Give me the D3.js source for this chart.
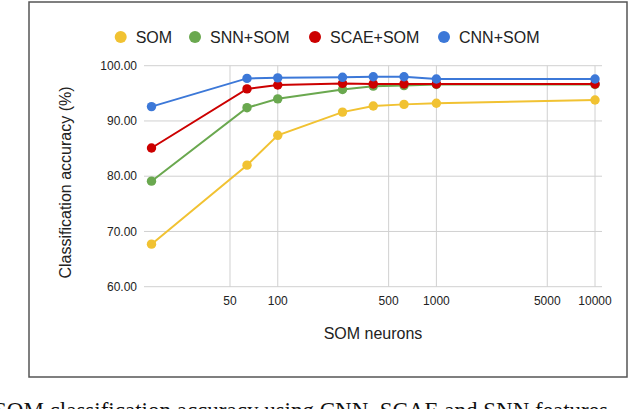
<!DOCTYPE html>
<html>
<head>
<meta charset="utf-8">
<script src="https://cdn.jsdelivr.net/npm/d3@7"></script>
<style>
  html, body { margin: 0; padding: 0; background: #fff; overflow: hidden; }
  svg { display: block; }
</style>
</head>
<body>
<svg id="chart" width="640" height="409"></svg>
<script>
const neurons = [16, 64, 100, 256, 400, 625, 1000, 10000];
const seriesNames = ["SOM", "SNN+SOM", "SCAE+SOM", "CNN+SOM"];
const seriesColors = ["#f1c232", "#6aa84f", "#cc0000", "#3c78d8"];
const somValues     = [67.7, 82.0, 87.4, 91.6, 92.7, 93.0, 93.2, 93.8];
const snnSomValues  = [79.1, 92.4, 94.0, 95.7, 96.3, 96.4, 96.6, 96.6];
const scaeSomValues = [85.1, 95.8, 96.5, 96.8, 96.7, 96.7, 96.7, 96.7];
const cnnSomValues  = [92.6, 97.7, 97.8, 97.9, 98.0, 98.0, 97.6, 97.6];
const yTicks = [60, 70, 80, 90, 100];
const xTicks = [50, 100, 500, 1000, 5000, 10000];
const xLabel = "SOM neurons";
const yLabel = "Classification accuracy (%)";
const caption = "SOM classification accuracy using CNN, SCAE and SNN features";

const allValues = [somValues, snnSomValues, scaeSomValues, cnnSomValues];

const svg = d3.select("#chart");

// frame
svg.append("rect")
  .attr("x", 29).attr("y", 2).attr("width", 598).attr("height", 375)
  .attr("fill", "#fff").attr("stroke", "#555").attr("stroke-width", 1.5);

const x = d3.scaleLog().domain([14.35, 11066]).range([144, 602]);
const y = d3.scaleLinear().domain([60, 100]).range([286.7, 65.7]);

const font = "Liberation Sans, Arial, sans-serif";

// horizontal gridlines
svg.append("g").selectAll("line").data(yTicks).join("line")
  .attr("x1", 144).attr("x2", 602)
  .attr("y1", d => y(d)).attr("y2", d => y(d))
  .attr("stroke", "#d0d0d0").attr("stroke-width", 1);

// vertical gridlines
svg.append("g").selectAll("line").data(xTicks).join("line")
  .attr("x1", d => x(d)).attr("x2", d => x(d))
  .attr("y1", y(100)).attr("y2", y(60))
  .attr("stroke", "#d0d0d0").attr("stroke-width", 1);

// y tick labels
svg.append("g").selectAll("text").data(yTicks).join("text")
  .attr("x", 137).attr("y", d => y(d))
  .attr("dy", "0.35em")
  .attr("text-anchor", "end")
  .attr("font-family", font).attr("font-size", 12).attr("fill", "#222")
  .text(d => d3.format(".2f")(d));

// x tick labels
svg.append("g").selectAll("text").data(xTicks).join("text")
  .attr("x", d => x(d)).attr("y", 301)
  .attr("dy", "0.35em")
  .attr("text-anchor", "middle")
  .attr("font-family", font).attr("font-size", 12).attr("fill", "#222")
  .text(d => d);

// axis titles
svg.append("text")
  .attr("x", 373).attr("y", 339)
  .attr("text-anchor", "middle")
  .attr("font-family", font).attr("font-size", 16).attr("fill", "#222")
  .text(xLabel);

svg.append("text")
  .attr("transform", "translate(71,182.5) rotate(-90)")
  .attr("text-anchor", "middle")
  .attr("font-family", font).attr("font-size", 16).attr("fill", "#222")
  .text(yLabel);

// series
const line = d3.line().x((d, i) => x(neurons[i])).y(d => y(d));
allValues.forEach((vals, si) => {
  const g = svg.append("g");
  g.append("path").datum(vals)
    .attr("d", line).attr("fill", "none")
    .attr("stroke", seriesColors[si]).attr("stroke-width", 2);
  g.selectAll("circle").data(vals).join("circle")
    .attr("cx", (d, i) => x(neurons[i])).attr("cy", d => y(d))
    .attr("r", 4.7).attr("fill", seriesColors[si]);
});

// legend
const legendDotX = [120.7, 195, 315, 444];
const legend = svg.append("g");
seriesNames.forEach((name, i) => {
  legend.append("circle").attr("cx", legendDotX[i]).attr("cy", 37).attr("r", 6)
    .attr("fill", seriesColors[i]);
  legend.append("text").attr("x", legendDotX[i] + 15).attr("y", 37).attr("dy", "0.36em")
    .attr("font-family", font).attr("font-size", 16).attr("fill", "#222")
    .text(name);
});

// caption (cut off at the bottom edge in the reference)
svg.append("text")
  .attr("x", -6).attr("y", 418)
  .attr("font-family", "Liberation Serif, Times New Roman, serif").attr("font-size", 23)
  .attr("fill", "#111")
  .text(caption);
</script>
</body>
</html>
